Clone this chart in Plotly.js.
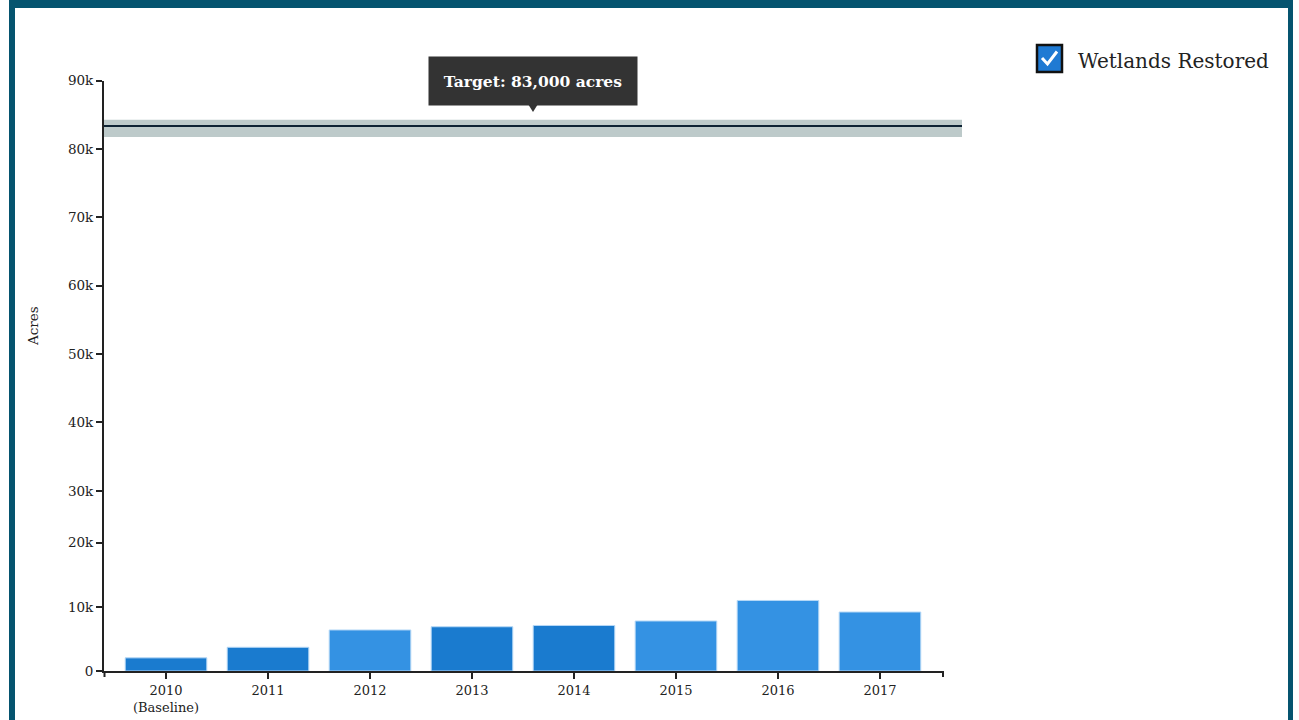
<!DOCTYPE html>
<html>
<head>
<meta charset="utf-8">
<script src="https://cdn.plot.ly/plotly-3.0.1.min.js"></script>
<style>
  html, body { margin: 0; padding: 0; background: #ffffff; overflow: hidden; }
  #frame { position: absolute; left: 9px; top: -10px; width: 1273px; height: 760px;
           border-left: 6px solid #05546f; border-right: 5px solid #05546f; border-top: 18px solid #05546f; }
  #chart { position: absolute; left: 0; top: 0; width: 1299px; height: 720px; }
</style>
</head>
<body>
<div id="frame"></div>
<div id="chart"></div>
<script>
// ---- data ----
const years = ["2010<br>(Baseline)", "2011", "2012", "2013", "2014", "2015", "2016", "2017"];
const acresRestored = [2050, 3700, 6400, 6900, 7100, 7800, 11000, 9200];
const targetAcres = 83000;
const targetLabel = "Target: 83,000 acres";
const seriesName = "Wetlands Restored";
const lowerTickVals = [0, 10000, 20000];
const lowerTickText = ["0", "10k", "20k"];
const upperTickVals = [30000, 40000, 50000, 60000, 70000, 80000, 90000];
const upperTickText = ["30k", "40k", "50k", "60k", "70k", "80k", "90k"];

// ---- styles ----
const DARK = "#1a7bcf", LIGHT = "#3492e3";
const barColors = [DARK, DARK, LIGHT, DARK, DARK, LIGHT, LIGHT, LIGHT];
const FONT = "DejaVu Serif, Liberation Serif, serif";
const INK = "#222222";
const W = 1299, H = 720;
const px = x => x / W;
const py = y => 1 - y / H;

const traces = [
  {
    type: "bar", x: years, y: acresRestored, xaxis: "x", yaxis: "y",
    marker: { color: barColors, line: { color: "#b6d8f6", width: 1 } },
    hoverinfo: "x+y", showlegend: false
  },
  { type: "scatter", x: [], y: [], xaxis: "x", yaxis: "y2", showlegend: false, hoverinfo: "skip" }
];

const axisCommon = {
  showgrid: false, zeroline: false, showline: true, linecolor: INK, linewidth: 2,
  ticks: "outside", ticklen: 6, tickwidth: 1.5, tickcolor: INK,
  tickfont: { family: FONT, size: 13.5, color: INK }, fixedrange: true
};

const layout = {
  width: W, height: H,
  margin: { l: 0, r: 0, t: 0, b: 0 },
  paper_bgcolor: "rgba(0,0,0,0)", plot_bgcolor: "rgba(0,0,0,0)",
  showlegend: false,
  bargap: 0.2,
  xaxis: Object.assign({}, axisCommon, {
    domain: [px(104), px(943)], anchor: "y", type: "category",
    range: [-0.608, 7.618], tickfont: { family: FONT, size: 13, color: INK }
  }),
  yaxis: Object.assign({}, axisCommon, {
    domain: [py(671), py(525)], anchor: "x", range: [0, 22770],
    tickvals: lowerTickVals, ticktext: lowerTickText
  }),
  yaxis2: Object.assign({}, axisCommon, {
    domain: [py(525), py(80.5)], anchor: "x", range: [25000, 90000],
    tickvals: upperTickVals, ticktext: upperTickText
  }),
  shapes: [
    { type: "rect", xref: "paper", yref: "y2", x0: px(104), x1: px(962),
      y0: targetAcres - 1250, y1: targetAcres + 1250, fillcolor: "#bdcaca", line: { width: 0 }, layer: "below" },
    { type: "line", xref: "paper", yref: "y2", x0: px(104), x1: px(962),
      y0: targetAcres + 350, y1: targetAcres + 350, line: { color: "#0d2233", width: 2.2 } },
    { type: "path", xref: "paper", yref: "paper",
      path: `M ${px(528)},${py(104)} L ${px(538)},${py(104)} L ${px(533)},${py(112)} Z`,
      fillcolor: "#333333", line: { width: 0 } },
    { type: "line", xref: "paper", yref: "paper", x0: px(104.5), x1: px(104.5), y0: py(671), y1: py(677),
      line: { color: INK, width: 2 } },
    { type: "line", xref: "paper", yref: "paper", x0: px(943), x1: px(943), y0: py(671), y1: py(677),
      line: { color: INK, width: 2 } },
    { type: "rect", xref: "paper", yref: "paper", x0: px(1037), x1: px(1062), y0: py(72), y1: py(45),
      fillcolor: "#1f7ad3", line: { color: "#111111", width: 2.5 } },
    { type: "path", xref: "paper", yref: "paper",
      path: `M ${px(1042)},${py(58)} L ${px(1047.5)},${py(64)} L ${px(1057)},${py(51.5)}`,
      line: { color: "#ffffff", width: 3 } }
  ],
  annotations: [
    { xref: "paper", yref: "paper", x: px(533), y: py(81), xanchor: "center", yanchor: "middle",
      text: "<b>" + targetLabel + "</b>", showarrow: false,
      font: { family: FONT, size: 15.5, color: "#ffffff" },
      bgcolor: "#333333", borderpad: 12, width: 184, height: 24 },
    { xref: "paper", yref: "paper", x: px(1076), y: py(61), xanchor: "left", yanchor: "middle",
      text: seriesName, showarrow: false, font: { family: FONT, size: 20, color: INK } },
    { xref: "paper", yref: "paper", x: px(33), y: py(326), xanchor: "center", yanchor: "middle",
      text: "Acres", textangle: -90, showarrow: false, font: { family: FONT, size: 13.5, color: INK } }
  ]
};

Plotly.newPlot("chart", traces, layout, { displayModeBar: false });
</script>
</body>
</html>
